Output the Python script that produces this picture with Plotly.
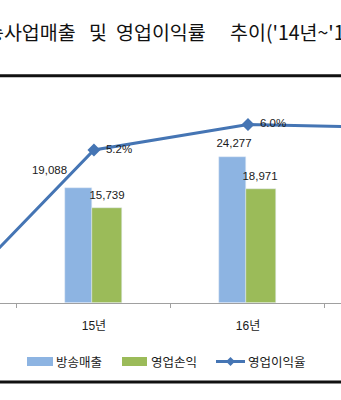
import plotly.graph_objects as go

# ---- data ----
years = ["14년", "15년", "16년", "17년"]
sales = [17650, 19088, 24277, 25900]          # 방송매출
op_profit = [14383, 15739, 18971, 20100]      # 영업손익
op_margin = [0.2, 5.2, 6.0, 5.9]              # 영업이익율 (%)
sales_labels = ["17,650", "19,088", "24,277", "25,900"]
profit_labels = ["14,383", "15,739", "18,971", "20,100"]
margin_labels = ["0.2%", "5.2%", "6.0%", "5.9%"]
series_names = ["방송매출", "영업손익", "영업이익율"]
title_words = ["방송사업매출", "및", "영업이익률", "추이('14년~'17년)"]

# ---- styling / geometry ----
W, H = 341, 400
BLUE, GREEN, LINE = "#8db4e2", "#9bbb59", "#4575b4"
NUM_FONT = "Liberation Sans, Noto Sans CJK KR"
KR_FONT = "Noto Sans CJK KR"
X_RANGE = [0.39, 2.604]
PLOT_TOP_PX, PLOT_BOT_PX = 80, 302.7
Y1_PER_PX = 166.7
Y1_RANGE = [0, (PLOT_BOT_PX - PLOT_TOP_PX) * Y1_PER_PX]
Y2_RANGE = [0.4094, 7.396]
XK = (X_RANGE[1] - X_RANGE[0]) / W          # x units per pixel

BLUE_OFF, BLUE_W = -0.185, 0.17
GREEN_OFF, GREEN_W = -0.015, 0.20


def py(px):
    return 1 - px / H


def pxp(px):
    return px / W


def to_px(xv):
    return (xv - X_RANGE[0]) / XK


fig = go.Figure()

fig.add_trace(go.Bar(x=years, y=sales, name=series_names[0], marker_color=BLUE,
                     offset=BLUE_OFF, width=BLUE_W, showlegend=False))
fig.add_trace(go.Bar(x=years, y=op_profit, name=series_names[1], marker_color=GREEN,
                     offset=GREEN_OFF, width=GREEN_W, showlegend=False))
fig.add_trace(go.Scatter(x=years, y=op_margin, name=series_names[2], yaxis="y2",
                         mode="lines+markers", line=dict(color=LINE, width=3),
                         marker=dict(symbol="diamond", size=10, color=LINE),
                         showlegend=False))

# bar label placement: (pixel dx, pixel dy, base) where base "top" is the bar top
# and "axis" is the zero line
blue_place = [(0, 13, "top"), (-29, 17, "top"), (1.5, 13, "top"), (0, 13, "top")]
green_place = [(37.5, -20.5, "axis"), (0, 12, "top"), (-1, 12, "top"), (0, 12, "top")]

lx, ly, lt = [], [], []
for vals, labels, place, off, wid in ((sales, sales_labels, blue_place, BLUE_OFF, BLUE_W),
                                      (op_profit, profit_labels, green_place, GREEN_OFF, GREEN_W)):
    for i in range(len(years)):
        dx, dy, base = place[i]
        xv = i + off + wid / 2 + dx * XK
        if not -25 <= to_px(xv) <= W + 25:
            continue
        yb = vals[i] if base == "top" else 0
        lx.append(xv)
        ly.append(yb + dy * Y1_PER_PX)
        lt.append(labels[i])

fig.add_trace(go.Scatter(x=lx, y=ly, text=lt, mode="text", xaxis="x2",
                         textposition="middle center", cliponaxis=False,
                         textfont=dict(family=NUM_FONT, size=11.5, color="#1a1a1a"),
                         showlegend=False, hoverinfo="skip"))

mx, my, mt = [], [], []
for i in range(len(years)):
    xv = i + 12 * XK
    if 0 <= to_px(xv) <= W:
        mx.append(xv)
        my.append(op_margin[i])
        mt.append(margin_labels[i])
fig.add_trace(go.Scatter(x=mx, y=my, text=mt, mode="text", xaxis="x2", yaxis="y2",
                         textposition="middle right", cliponaxis=False,
                         textfont=dict(family=NUM_FONT, size=11.5, color="#1a1a1a"),
                         showlegend=False, hoverinfo="skip"))

dom = [py(PLOT_BOT_PX), py(PLOT_TOP_PX)]
fig.update_layout(
    width=W, height=H,
    margin=dict(l=0, r=0, t=0, b=0),
    paper_bgcolor="white", plot_bgcolor="white",
    xaxis=dict(type="category", categoryorder="array", categoryarray=years,
               range=X_RANGE, tickson="boundaries", ticks="outside", ticklen=4,
               tickcolor="#a0a0a0", showline=True, linecolor="#a0a0a0", linewidth=1,
               showgrid=False, ticklabelstandoff=12,
               tickfont=dict(family=NUM_FONT, size=12, color="#1a1a1a")),
    xaxis2=dict(type="linear", range=X_RANGE, overlaying="x", visible=False),
    yaxis=dict(domain=dom, range=Y1_RANGE, visible=False, showgrid=False),
    yaxis2=dict(range=Y2_RANGE, overlaying="y", visible=False, showgrid=False),
    bargap=0, showlegend=False,
)

# title, set word by word; it runs past both edges of the canvas
for word, xl in zip(title_words, (-34.5, 87, 114, 228)):
    fig.add_annotation(text=word, xref="paper", yref="paper",
                       x=pxp(xl), y=py(32), xanchor="left", yanchor="middle",
                       showarrow=False, font=dict(family=KR_FONT, size=19.5, color="#111"))

# rule lines above and below the chart
for ypx in (75.7, 382):
    fig.add_shape(type="line", xref="paper", yref="paper", x0=0, x1=1,
                  y0=py(ypx), y1=py(ypx), line=dict(color="#111", width=3))

# legend built from shapes and text
LEG_Y = 361.5
fig.add_shape(type="rect", xref="paper", yref="paper", x0=pxp(27), x1=pxp(53),
              y0=py(LEG_Y + 4.5), y1=py(LEG_Y - 4.5), fillcolor=BLUE, line_width=0)
fig.add_shape(type="rect", xref="paper", yref="paper", x0=pxp(122), x1=pxp(147),
              y0=py(LEG_Y + 4.5), y1=py(LEG_Y - 4.5), fillcolor=GREEN, line_width=0)
fig.add_shape(type="line", xref="paper", yref="paper", x0=pxp(216), x1=pxp(245),
              y0=py(LEG_Y), y1=py(LEG_Y), line=dict(color=LINE, width=3))
cx, cy, r = 230.5, LEG_Y, 4.5
fig.add_shape(type="path", xref="paper", yref="paper",
              path=f"M {pxp(cx - r)} {py(cy)} L {pxp(cx)} {py(cy - r)} "
                   f"L {pxp(cx + r)} {py(cy)} L {pxp(cx)} {py(cy + r)} Z",
              fillcolor=LINE, line_width=0)
for name, xl in zip(series_names, (54, 149, 246)):
    fig.add_annotation(text=name, xref="paper", yref="paper", x=pxp(xl), y=py(LEG_Y),
                       xanchor="left", yanchor="middle", showarrow=False,
                       font=dict(family=KR_FONT, size=12.5, color="#1a1a1a"))

fig.write_html("out.html")
